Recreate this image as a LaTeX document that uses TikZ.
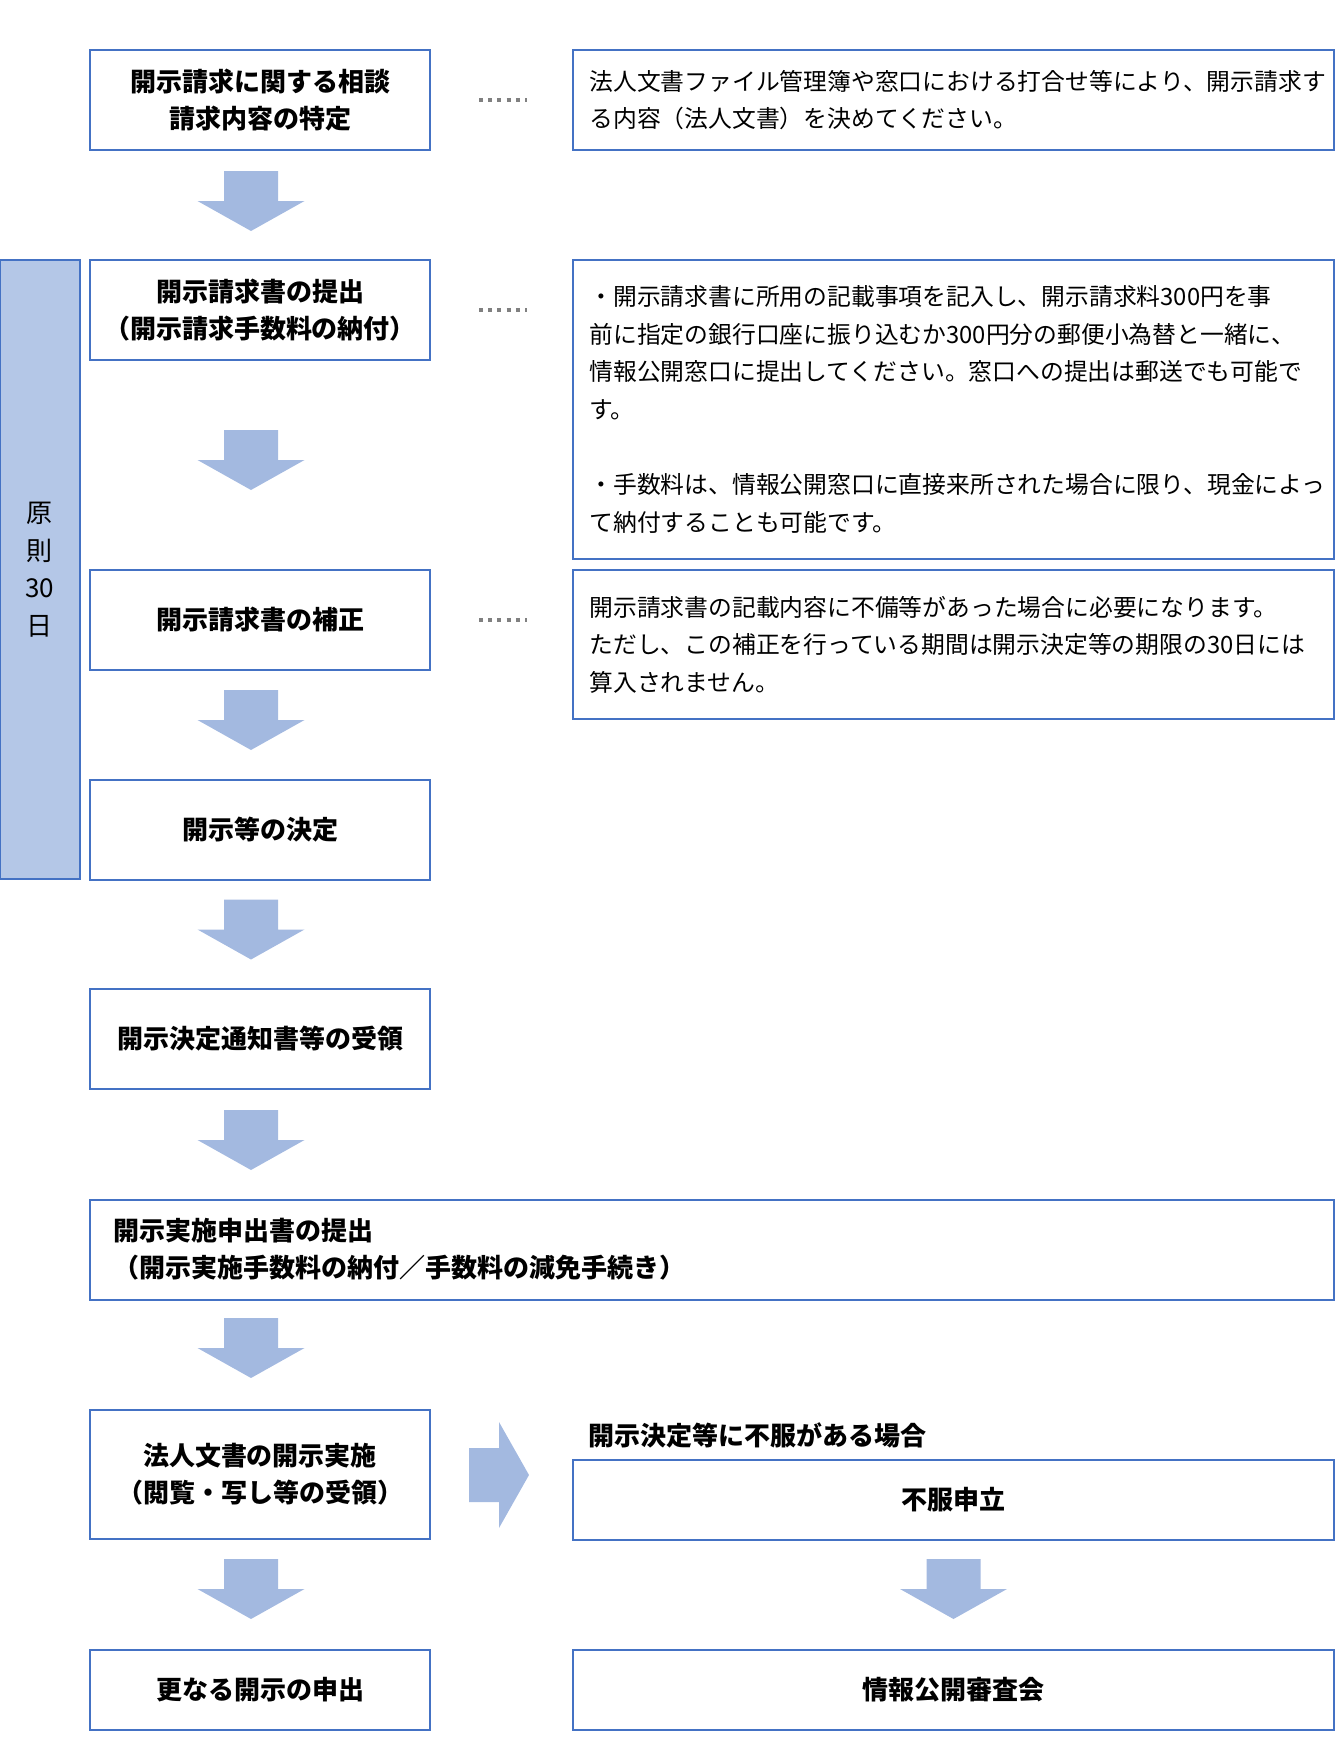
\documentclass[tikz,border=0pt]{standalone}
\usepackage{fontspec}
\setmainfont{Noto Sans CJK JP}
\usepackage{tikz}
\usetikzlibrary{calc}

\definecolor{frameblue}{HTML}{4472C4}
\definecolor{barblue}{HTML}{B4C7E7}
\definecolor{arrowblue}{HTML}{A3B9E0}
\definecolor{dotgray}{HTML}{808080}

\tikzset{
  stepbox/.style={draw=frameblue, line width=1pt, minimum width=170pt, minimum height=50pt,
    inner sep=0pt, align=center, font=\bfseries\fontsize{13pt}{18.5pt}\selectfont},
  notebox/.style={draw=frameblue, line width=1pt, minimum width=380.5pt, inner sep=0pt,
    text width=364pt, align=left, font=\fontsize{11.9pt}{18.8pt}\selectfont},
  leader/.style={dotgray, line width=2pt, dash pattern=on 2pt off 2.6pt,
    shorten <=24pt, shorten >=22.5pt},
}

% block arrows (top centre / left middle)
\newcommand{\flowarrow}[1]{%
  \fill[arrowblue] #1 ++(-27,0) -- ++(54,0) -- ++(0,30) -- ++(26.5,0)
    -- ++(-53.5,30) -- ++(-53.5,-30) -- ++(26.5,0) -- cycle;}
\newcommand{\sidearrow}[1]{%
  \fill[arrowblue] #1 ++(0,-27) -- ++(30,0) -- ++(0,-26) -- ++(30,53)
    -- ++(-30,53) -- ++(0,-26) -- ++(-30,0) -- cycle;}

\begin{document}
\begin{tikzpicture}[x=0.5pt,y=-0.5pt]
\useasboundingbox (0,0) rectangle (1335,1756);

\node [stepbox] (req) at (260,100) {開示請求に関する相談\\請求内容の特定};
\node [notebox, minimum height=50pt] (reqnote) at (953.5,100)
  {法人文書ファイル管理簿や窓口における打合せ等により、開示請求す\\る内容（法人文書）を決めてください。};

\node [draw=frameblue, fill=barblue, line width=1pt, minimum width=40pt, minimum height=309.5pt,
  inner sep=0pt, align=center, font=\fontsize{13pt}{18.8pt}\selectfont] (bar) at (40,569.5) {原\\則\\30\\日};

\node [stepbox] (sub) at (260,310) {開示請求書の提出\\（開示請求手数料の納付）};
\node [notebox, minimum height=149.5pt] (subnote) at (953.5,409.5)
  {・開示請求書に所用の記載事項を記入し、開示請求料300円を事\\
   前に指定の銀行口座に振り込むか300円分の郵便小為替と一緒に、\\
   情報公開窓口に提出してください。窓口への提出は郵送でも可能で\\
   す。\\[18.8pt]
   ・手数料は、情報公開窓口に直接来所された場合に限り、現金によっ\\
   て納付することも可能です。};

\node [stepbox] (fix) at (260,620) {開示請求書の補正};
\node [notebox, minimum height=74.5pt] (fixnote) at (953.5,644.5)
  {開示請求書の記載内容に不備等があった場合に必要になります。\\
   ただし、この補正を行っている期間は開示決定等の期限の30日には\\
   算入されません。};

\node [stepbox] (dec) at (260,829.5) {開示等の決定};
\node [stepbox] (notice) at (260,1039) {開示決定通知書等の受領};
\node [stepbox, minimum width=622pt, text width=599pt, align=left] (app) at (712,1249.5)
  {開示実施申出書の提出\\（開示実施手数料の納付／手数料の減免手続き）};

\node [stepbox, minimum height=64.5pt] (impl) at (260,1474.5) {法人文書の開示実施\\（閲覧・写し等の受領）};
\node [anchor=west, inner sep=0pt, font=\bfseries\fontsize{13pt}{18.5pt}\selectfont] (cond) at (588,1435)
  {開示決定等に不服がある場合};
\node [stepbox, minimum width=380.5pt, minimum height=40pt] (appeal) at (953.5,1500) {不服申立};

\node [stepbox, minimum height=40pt] (more) at (260,1690) {更なる開示の申出};
\node [stepbox, minimum width=380.5pt, minimum height=40pt] (review) at (953.5,1690) {情報公開審査会};

% dotted leaders
\draw [leader] (req.east) -- (reqnote.west);
\draw [leader] (sub.east) -- (sub.east -| subnote.west);
\draw [leader] (fix.east) -- (fix.east -| fixnote.west);

% flow arrows
\flowarrow{($(req.south)+(-9,20)$)}
\flowarrow{($(sub.south)+(-9,69)$)}
\flowarrow{($(fix.south)+(-9,19)$)}
\flowarrow{($(dec.south)+(-9,19)$)}
\flowarrow{($(notice.south)+(-9,20)$)}
\flowarrow{($(impl.north)+(-9,-91)$)}
\flowarrow{($(impl.south)+(-9,19)$)}
\flowarrow{($(appeal.south)+(0,18)$)}
\sidearrow{($(impl.east)+(38,0.5)$)}

\end{tikzpicture}
\end{document}
